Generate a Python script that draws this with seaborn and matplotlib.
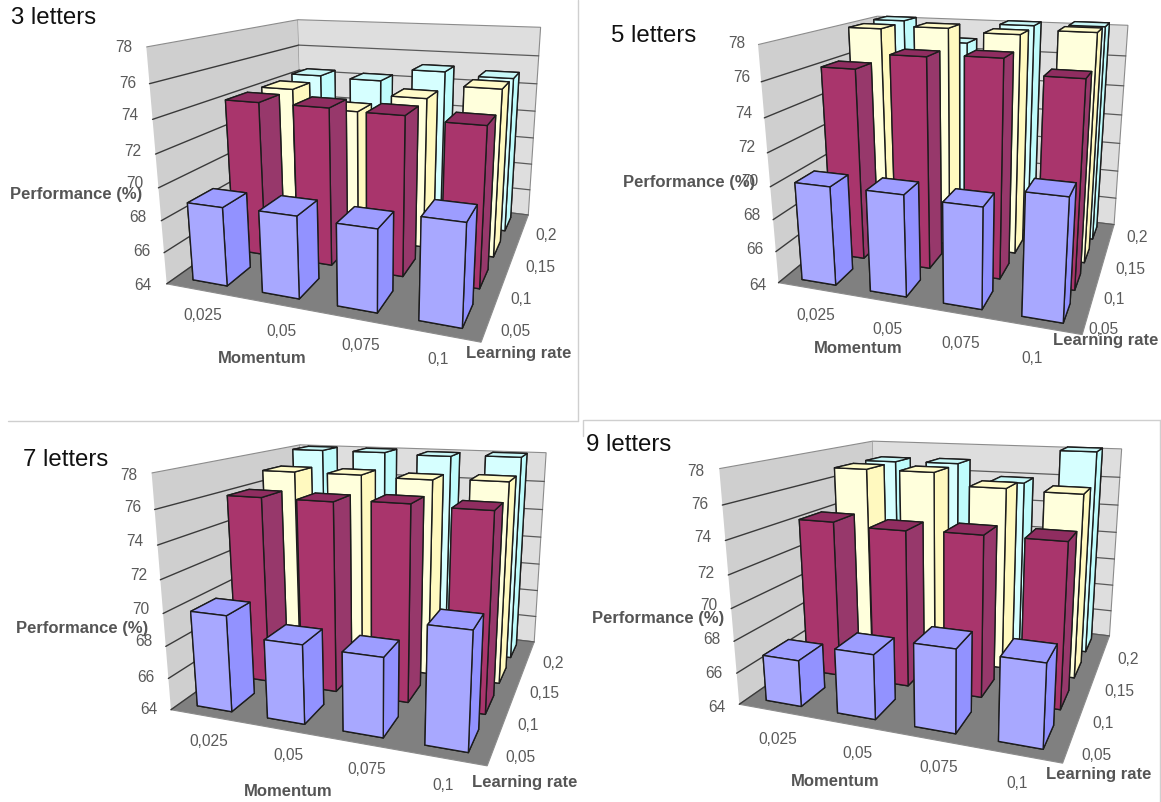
import numpy as np
import matplotlib
matplotlib.use("Agg")
import matplotlib.pyplot as plt
from matplotlib.lines import Line2D
import seaborn as sns

W, H = 1161, 802
sns.set_theme(style="white")
plt.rcParams["font.family"] = ["Liberation Sans", "DejaVu Sans"]

momentum_labels = ["0,025", "0,05", "0,075", "0,1"]
lr_labels = ["0,05", "0,1", "0,15", "0,2"]
perf_ticks = [64, 66, 68, 70, 72, 74, 76, 78]

# performance by learning rate (rows) and momentum (columns)
l3_005 = [68.9, 69.0, 68.9, 69.9]
l3_010 = [74.1, 74.1, 74.0, 73.8]
l3_015 = [74.1, 72.9, 74.1, 75.0]
l3_020 = [74.3, 74.2, 75.1, 74.9]

l5_005 = [70.1, 70.15, 70.0, 71.1]
l5_010 = [76.1, 77.05, 77.2, 76.35]
l5_015 = [78.0, 78.2, 78.0, 78.3]
l5_020 = [78.1, 76.8, 78.1, 78.2]

l7_005 = [69.95, 68.8, 68.7, 70.8]
l7_010 = [76.0, 76.0, 76.15, 76.05]
l7_015 = [77.0, 77.0, 76.9, 77.0]
l7_020 = [78.0, 78.0, 77.9, 78.0]

l9_005 = [66.9, 67.95, 68.95, 68.85]
l9_010 = [74.2, 74.0, 74.1, 74.1]
l9_015 = [76.9, 76.9, 76.1, 76.0]
l9_020 = [76.9, 76.95, 75.8, 78.1]

# face colours: bottom, top, front, back, left, right
blue = ["#9999ff", "#9d9dff", "#a8a8ff", "#a8a8ff", "#9292ff", "#9292ff"]
crimson = ["#8f2d60", "#8f2d60", "#a9356c", "#a9356c", "#97386b", "#97386b"]
yellow = ["#ffffc8", "#fffbc8", "#ffffdc", "#ffffdc", "#fff9bf", "#fff9bf"]
cyan = ["#c8ffff", "#c8f8f8", "#d6ffff", "#d6ffff", "#bffcfc", "#bffcfc"]
series_colors = [blue, crimson, yellow, cyan]

panels = [
    dict(title="3 letters", title_xy=(11, 18), rows=[l3_005, l3_010, l3_015, l3_020],
         corners=[(167, 284), (481, 342), (528, 215), (146, 47), (298, 20), (541, 27)],
         z_xy=[(143, 286), (142, 251), (138, 218), (135, 183), (133, 151), (130, 116), (128, 83), (124, 48)],
         x_xy=[(203, 315), (281, 331), (361, 345), (438, 360)],
         y_xy=[(515, 331), (521, 299), (540, 268), (546, 236)],
         perf=(76, 195), mom=(262, 358), lr=(519, 354)),
    dict(title="5 letters", title_xy=(611, 36), rows=[l5_005, l5_010, l5_015, l5_020],
         corners=[(781, 285), (1077, 338), (1118, 217), (761, 40), (870, 24), (1131, 24)],
         z_xy=[(758, 285), (755, 250), (752, 216), (750, 182), (747, 147), (744, 113), (742, 78), (737, 43)],
         x_xy=[(816, 315), (887, 329), (961, 344), (1032, 358)],
         y_xy=[(1103, 330), (1114, 300), (1130, 270), (1137, 238)],
         perf=(689, 182), mom=(858, 348), lr=(1106, 341)),
    dict(title="7 letters", title_xy=(23, 460), rows=[l7_005, l7_010, l7_015, l7_020],
         corners=[(172, 710), (486, 767), (537, 640), (152, 472), (298, 447), (545, 452)],
         z_xy=[(149, 710), (146, 677), (144, 642), (141, 609), (139, 575), (135, 542), (133, 508), (129, 475)],
         x_xy=[(209, 742), (288, 756), (367, 770), (443, 786)],
         y_xy=[(520, 757), (528, 726), (544, 694), (553, 663)],
         perf=(82, 628), mom=(288, 792), lr=(525, 782)),
    dict(title="9 letters", title_xy=(586, 445), rows=[l9_005, l9_010, l9_015, l9_020],
         corners=[(740, 705), (1062, 763), (1109, 635), (719, 468), (872, 442), (1123, 449)],
         z_xy=[(717, 708), (714, 674), (712, 640), (709, 606), (706, 573), (703, 538), (700, 504), (696, 471)],
         x_xy=[(778, 740), (857, 754), (939, 768), (1017, 784)],
         y_xy=[(1096, 755), (1103, 724), (1119, 691), (1128, 660)],
         perf=(658, 619), mom=(835, 782), lr=(1099, 775)),
]

Z0, Z1 = perf_ticks[0], perf_ticks[-1]
CORNERS3D = np.array([[0, 0, Z0, 1], [4, 0, Z0, 1], [4, 4, Z0, 1],
                      [0, 0, Z1, 1], [0, 4, Z1, 1], [4, 4, Z1, 1]], float)


def project(ax):
    p = ax.get_proj() @ CORNERS3D.T
    return (p[:2] / p[3]).T


def apply_params(ax, q):
    ax.view_init(elev=q[0], azim=q[1])
    ax.set_proj_type("persp", focal_length=q[2])
    ax.set_box_aspect((q[3], q[4], q[5]))


def fit_error(ax, q, target):
    apply_params(ax, q)
    P = project(ax)
    Pc, Tc = P - P.mean(0), target - target.mean(0)
    s = (Pc * Tc).sum() / (Pc * Pc).sum()
    return ((s * Pc - Tc) ** 2).sum(), s, Tc, P


def fit_view(ax, target):
    q = np.array([15.0, -70.0, 0.5, 1.0, 0.8, 0.75])
    step = np.array([4.0, 6.0, 0.15, 0.15, 0.15, 0.15])
    best = fit_error(ax, q, target)[0]
    for _ in range(140):
        improved = False
        for i in range(6):
            for sign in (1, -1):
                c = q.copy()
                c[i] += sign * step[i]
                if c[2] < 0.12 or min(c[3:]) < 0.1:
                    continue
                e = fit_error(ax, c, target)[0]
                if e < best:
                    best, q, improved = e, c, True
        if not improved:
            step = step * 0.6
    return q


def place_axes(ax, q, target):
    _, s, _, P = fit_error(ax, q, target)
    ax.set_position([0.1, 0.1, 0.5, 0.5 * W / H])
    ax.apply_aspect()
    a = ax.transData.transform([[0, 0], [1, 1]])
    k = (a[1, 0] - a[0, 0]) / (0.5 * W)
    side = s / k
    ax.set_position([0, 0, side / W, side / H])
    ax.apply_aspect()
    origin = ax.transData.transform([[0, 0]])[0]
    t = np.array([target[:, 0].mean(), target[:, 1].mean()])
    m = P.mean(0)
    left = t[0] - s * m[0] - origin[0]
    bottom = t[1] - s * m[1] - origin[1]
    ax.set_position([left / W, bottom / H, side / W, side / H])


fig = plt.figure(figsize=(W / 100, H / 100), dpi=100, facecolor="white")


def label(xy, text, **kw):
    fig.text(xy[0] / W, 1 - xy[1] / H, text, ha="center", va="center", **kw)


BAR_W, BAR_D = 0.5, 0.58
GAP_X, GAP_Y = (1 - BAR_W) / 2, 0.21
TICK = dict(fontsize=11.2, color="#5a5a5a")
AXLAB = dict(fontsize=12, color="#555555", fontweight="bold")

for panel in panels:
    ax = fig.add_subplot(projection="3d", computed_zorder=False)
    ax.set_xlim(0, 4, view_margin=0)
    ax.set_ylim(0, 4, view_margin=0)
    ax.set_zlim(Z0, Z1, view_margin=0)
    ax.set_xticks([])
    ax.set_yticks([])
    ax.set_zticks([])
    ax.grid(False)
    ax.patch.set_visible(False)
    for axis, col in ((ax.xaxis, "#cfcfcf"), (ax.yaxis, "#dedede"), (ax.zaxis, "#808080")):
        axis.set_pane_color(col)
        axis.pane.set_edgecolor("#8c8c8c")
        axis.pane.set_linewidth(0.8)
        axis.line.set_color((0, 0, 0, 0))

    target = np.array(panel["corners"], float) * [1, -1] + [0, H]
    q = fit_view(ax, target)
    apply_params(ax, q)
    place_axes(ax, q, target)

    for z in perf_ticks[:-1]:
        ax.plot([0, 0], [0, 4], [z, z], color="#3a3a3a", lw=1.0, zorder=0.5)
        ax.plot([0, 4], [4, 4], [z, z], color="#5a5a5a", lw=0.9, zorder=0.5)

    for j in range(3, -1, -1):
        for i in range(4):
            ax.bar3d(i + GAP_X, j + GAP_Y, Z0, BAR_W, BAR_D, panel["rows"][j][i] - Z0,
                     color=series_colors[j], edgecolor="#1c1c1c", linewidth=1.0, shade=False)

    label(panel["title_xy"], panel["title"], fontsize=17.3, color="#111111")
    fig.texts[-1].set_ha("left")
    for xy, t in zip(panel["z_xy"], perf_ticks):
        label(xy, str(t), **TICK)
    for xy, t in zip(panel["x_xy"], momentum_labels):
        label(xy, t, **TICK)
    for xy, t in zip(panel["y_xy"], lr_labels):
        label(xy, t, **TICK)
    label(panel["perf"], "Performance (%)", **AXLAB)
    label(panel["mom"], "Momentum", **AXLAB)
    label(panel["lr"], "Learning rate", **AXLAB)

for x0, y0, x1, y1 in [(578, 0, 578, 421), (8, 421, 578, 421), (584, 420, 1161, 420),
                       (583, 420, 583, 436), (1160, 420, 1160, 802)]:
    fig.add_artist(Line2D([x0 / W, x1 / W], [1 - y0 / H, 1 - y1 / H], color="#cfcfcf", lw=1.0))

fig.savefig("out.png", dpi=100)
